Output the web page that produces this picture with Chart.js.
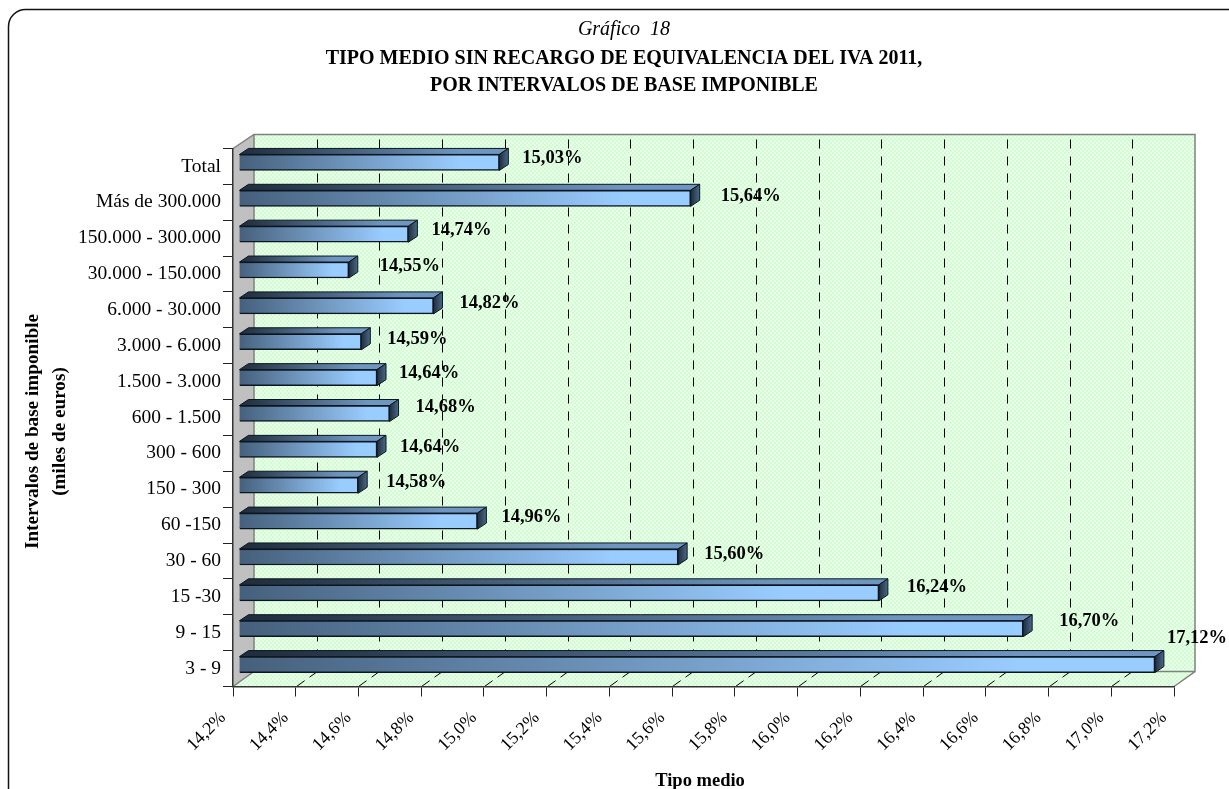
<!DOCTYPE html>
<html><head><meta charset="utf-8">
<style>html,body{margin:0;padding:0;background:#fff;overflow:hidden}canvas{display:block}</style>
<script src="https://cdn.jsdelivr.net/npm/chart.js@4"></script>
</head><body><canvas id="c" width="1229" height="789"></canvas>
<script>
const categories = ["Total","Más de 300.000","150.000 - 300.000","30.000 - 150.000","6.000 - 30.000","3.000 - 6.000","1.500 - 3.000","600 - 1.500","300 - 600","150 - 300","60 -150","30 - 60","15 -30","9 - 15","3 - 9"];
const tipoMedio = [15.03,15.64,14.74,14.55,14.82,14.59,14.64,14.68,14.64,14.58,14.96,15.60,16.24,16.70,17.12];
const labelNudgeX = [29,36,29,37,32,32,28,32,29,34,30,32,34,42,18];
const labelNudgeY = [-8,-6,-8,-8,-7,-7,-8,-10,-6,-7,-8,-7,-10,-11,-30];
const chartTitle = "Gráfico  18";
const chartSubtitle = ["TIPO MEDIO SIN RECARGO DE EQUIVALENCIA DEL IVA 2011,","POR INTERVALOS DE BASE IMPONIBLE"];
const yTitle = ["Intervalos de base imponible","(miles de euros)"];
const xTitle = "Tipo medio";
const xMin = 14.2, xMax = 17.2, xStep = 0.2;

const SERIF = "'Liberation Serif','Times New Roman',serif";
const WALL_DX = 21, WALL_TOP_DY = 14, WALL_BOT_DY = 15;
const BAR_DX = 6, BAR_DY = -4, FACE_DX = 9, FACE_DY = 6;

function dither(ctx){
  const p = document.createElement('canvas'); p.width = p.height = 4;
  const g = p.getContext('2d');
  g.fillStyle = '#e9ffe9'; g.fillRect(0,0,4,4);
  g.fillStyle = '#d2fcd2'; g.fillRect(0,0,2,2); g.fillRect(2,2,2,2);
  return ctx.createPattern(p,'repeat');
}
function poly(ctx,pts){ctx.beginPath();pts.forEach((q,i)=>i?ctx.lineTo(q[0],q[1]):ctx.moveTo(q[0],q[1]));ctx.closePath();}
function nudgeTitle(scale,dx,dy){
  if(scale._titleNudged)return;
  scale._titleNudged=true;
  const draw=scale.drawTitle;
  scale.drawTitle=function(){
    this.ctx.save();this.ctx.translate(dx,dy);draw.call(this);this.ctx.restore();
  };
}

const scene = {
  id:'scene',
  afterLayout(chart){
    chart.boxes.filter(b=>b.position==='top').forEach(b=>{b.left+=37;b.right+=37;});
  },
  beforeDraw(chart){
    const {ctx,chartArea:a,scales} = chart;
    const L=a.left,R=a.right,T=a.top,B=a.bottom;
    const bT=T-WALL_TOP_DY,bB=B-WALL_BOT_DY,bL=L+WALL_DX,bR=R+WALL_DX;
    ctx.save();
    // rounded frame, running off the right and bottom of the picture
    ctx.strokeStyle='#111';ctx.lineWidth=1.5;
    ctx.beginPath();ctx.moveTo(8.5,789);ctx.lineTo(8.5,26);ctx.arcTo(8.5,9.5,25,9.5,17);ctx.lineTo(1229,9.5);ctx.stroke();
    // walls
    const pat=dither(ctx);
    ctx.fillStyle=pat;ctx.fillRect(bL,bT,bR-bL,bB-bT);
    poly(ctx,[[L,B],[bL,bB],[bR,bB],[R,B]]);ctx.fill();
    ctx.fillStyle='#c0c0c0';poly(ctx,[[L,T],[bL,bT],[bL,bB],[L,B]]);ctx.fill();
    ctx.strokeStyle='#808080';ctx.lineWidth=1.5;
    ctx.beginPath();ctx.moveTo(L,T);ctx.lineTo(bL,bT);ctx.lineTo(bR,bT);ctx.lineTo(bR,bB);ctx.lineTo(R,B);ctx.moveTo(bR,bB);ctx.lineTo(bL,bB);ctx.lineTo(L,B);ctx.moveTo(bL,bT);ctx.lineTo(bL,bB);ctx.stroke();
    // dashed gridlines on back wall and floor
    ctx.strokeStyle='#000';ctx.lineWidth=1;
    scales.x.ticks.forEach((t,i)=>{
      if(i===0||i===scales.x.ticks.length-1)return;
      const x=Math.round(scales.x.getPixelForValue(t.value))+.5;
      ctx.setLineDash([9,8]);ctx.lineDashOffset=0;
      ctx.beginPath();ctx.moveTo(x+WALL_DX,bT+5);ctx.lineTo(x+WALL_DX,bB);ctx.stroke();
      ctx.setLineDash([10,6]);
      ctx.beginPath();ctx.moveTo(x,B);ctx.lineTo(x+WALL_DX,bB);ctx.stroke();
    });
    ctx.restore();
  },
  beforeDatasetDraw(chart,args){
    const {ctx}=chart;
    ctx.save();
    ctx.translate(BAR_DX,BAR_DY);
    args.meta.data.forEach(el=>{
      const x0=el.base,x1=el.x,h=el.height,yT=el.y-h/2,yB=el.y+h/2;
      const gt=ctx.createLinearGradient(x0,0,x1,0);
      gt.addColorStop(0,'#1f2c3b');gt.addColorStop(.85,'#6f96c0');gt.addColorStop(1,'#6f96c0');
      ctx.fillStyle=gt;ctx.strokeStyle='#0c1620';ctx.lineWidth=1;
      poly(ctx,[[x0,yT],[x0+FACE_DX,yT-FACE_DY],[x1+FACE_DX,yT-FACE_DY],[x1,yT]]);ctx.fill();ctx.stroke();
      const gs=ctx.createLinearGradient(x1,0,x1+FACE_DX,0);
      gs.addColorStop(0,'#1f2c3b');gs.addColorStop(1,'#4a6a8a');
      ctx.fillStyle=gs;
      poly(ctx,[[x1,yT],[x1+FACE_DX,yT-FACE_DY],[x1+FACE_DX,yB-FACE_DY],[x1,yB]]);ctx.fill();ctx.stroke();
    });
  },
  afterDatasetDraw(chart){chart.ctx.restore();},
  afterDatasetsDraw(chart){
    const {ctx,scales}=chart;
    ctx.save();
    ctx.font="bold 18.5px "+SERIF;ctx.fillStyle='#000';ctx.textAlign='left';ctx.textBaseline='middle';
    tipoMedio.forEach((v,i)=>{
      ctx.fillText(v.toFixed(2).replace('.',',')+'%',scales.x.getPixelForValue(v)+labelNudgeX[i],scales.y.getPixelForValue(i)+labelNudgeY[i]);
    });
    ctx.restore();
  }
};

new Chart(document.getElementById('c'),{
  type:'bar',
  plugins:[scene],
  data:{labels:categories,datasets:[{
    data:tipoMedio,
    base:xMin,
    clip:false,
    barThickness:16,
    borderWidth:1.5,
    borderColor:'#0c1620',
    backgroundColor(c){
      const x=c.chart.scales.x;
      if(!x||c.raw==null)return '#6f96c0';
      const x0=x.getPixelForValue(xMin),x1=x.getPixelForValue(c.raw);
      if(!Number.isFinite(x0)||!Number.isFinite(x1))return '#6f96c0';
      const g=c.chart.ctx.createLinearGradient(x0,0,x1,0);
      g.addColorStop(0,'#45607c');g.addColorStop(.85,'#99ccff');g.addColorStop(1,'#99ccff');
      return g;
    }
  }]},
  options:{
    indexAxis:'y',responsive:false,animation:false,
    layout:{padding:{left:0,right:55,top:0,bottom:0}},
    plugins:{
      legend:{display:false},tooltip:{enabled:false},
      title:{display:true,text:chartTitle,color:'#000',font:{family:SERIF,size:20,style:'italic',weight:'normal',lineHeight:1.1},padding:{top:19,bottom:4.5}},
      subtitle:{display:true,text:chartSubtitle,color:'#000',font:{family:SERIF,size:20,weight:'bold',lineHeight:27/20},padding:{top:0,bottom:49}}
    },
    scales:{
      x:{
        type:'linear',min:xMin,max:xMax,
        afterFit(s){s.height=102.5;nudgeTitle(s,-3.5,3);},
        border:{display:true,color:'#333',width:1.5},
        grid:{drawOnChartArea:false,drawTicks:true,tickLength:10,tickColor:'#222'},
        ticks:{stepSize:xStep,autoSkip:false,minRotation:45,maxRotation:45,padding:11,labelOffset:-10,color:'#000',font:{family:SERIF,size:18},
          callback:v=>v.toFixed(1).replace('.',',')+'%'},
        title:{display:true,text:xTitle,color:'#000',font:{family:SERIF,size:18.5,weight:'bold'},padding:{top:0,bottom:0}}
      },
      y:{
        type:'category',
        afterFit(s){s.width=233;nudgeTitle(s,0,14);},
        border:{display:true,color:'#333',width:1.5},
        grid:{drawOnChartArea:false,drawTicks:true,tickLength:10,tickColor:'#222'},
        ticks:{padding:2,autoSkip:false,color:'#000',font:{family:SERIF,size:19.5}},
        title:{display:true,text:yTitle,color:'#000',font:{family:SERIF,size:19.2,weight:'bold',lineHeight:27/19.2},padding:{top:20,bottom:0}}
      }
    }
  }
});
</script></body></html>
